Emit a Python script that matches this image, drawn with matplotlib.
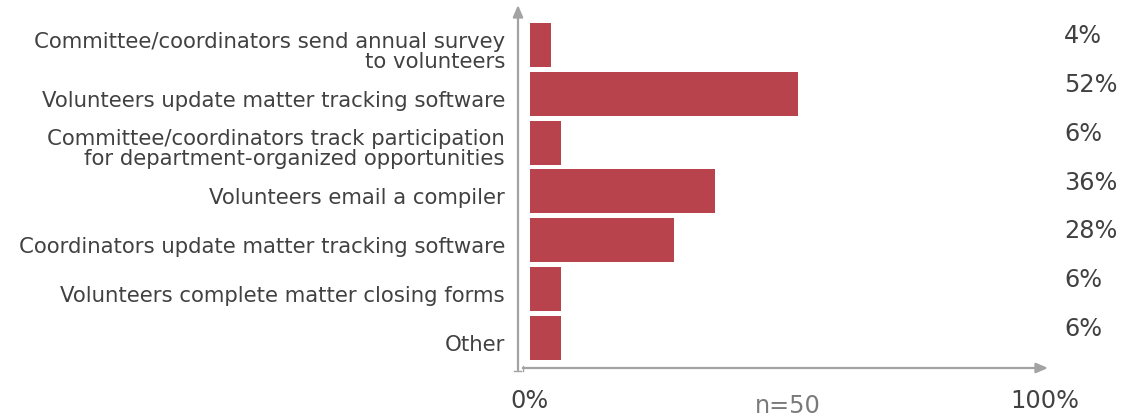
import matplotlib
matplotlib.use("Agg")
import matplotlib.pyplot as plt
from matplotlib.lines import Line2D

categories = [
    "Committee/coordinators send annual survey\nto volunteers",
    "Volunteers update matter tracking software",
    "Committee/coordinators track participation\nfor department-organized opportunities",
    "Volunteers email a compiler",
    "Coordinators update matter tracking software",
    "Volunteers complete matter closing forms",
    "Other",
]
values = [4, 52, 6, 36, 28, 6, 6]
value_labels = ["4%", "52%", "6%", "36%", "28%", "6%", "6%"]
x_tick_labels = ["0%", "100%"]
sample_note = "n=50"

BAR = "#B9434C"
TEXT = "#414141"
AXIS = "#A3A3A3"
FONT = ["DejaVu Sans"]

W, H = 1143, 419
fig = plt.figure(figsize=(W / 100, H / 100), dpi=100)
ax = fig.add_axes([518 / W, 1 - 368 / H, (1048 - 518) / W, (368 - 5) / H])

px = 5.15  # pixels per percentage point
ax.set_xlim(-12 / px, (1048 - 530) / px)
ax.set_ylim(6.62, -0.82)
for s in ax.spines.values():
    s.set_visible(False)
ax.set_xticks([])
ax.set_yticks([])

ys = list(range(len(values)))
ax.barh(ys, values, height=0.9, left=0, color=BAR)

# axis lines with arrow heads
arrow = dict(arrowstyle="-|>,head_length=0.7,head_width=0.3", color=AXIS, lw=1.6,
             shrinkA=0, shrinkB=0)
ax.annotate("", xy=(0, 1), xytext=(0, -0.006), xycoords="axes fraction",
            arrowprops=arrow, annotation_clip=False)
ax.annotate("", xy=(1, 0), xytext=(0.009, 0), xycoords="axes fraction",
            arrowprops=arrow, annotation_clip=False)

# small end ticks where the two axes meet
fig.add_artist(Line2D([514 / W, 521 / W], [1 - 370.5 / H] * 2, color=AXIS, lw=1.0))
fig.add_artist(Line2D([523 / W] * 2, [1 - 365.5 / H, 1 - 371 / H], color=AXIS, lw=1.0))

# category labels
for y, lab in zip(ys, categories):
    ax.text(-25 / px, y + 0.14, lab, ha="right", va="center", fontsize=15.3,
            color=TEXT, family=FONT, linespacing=1.0, clip_on=False)

# value labels on the right
for y, lab in zip(ys, value_labels):
    ax.text((1064 - 530) / px, y - 0.18, lab, ha="left", va="center",
            fontsize=17.3, color=TEXT, family=FONT, clip_on=False)

# bottom labels
kw = dict(transform=ax.get_xaxis_transform(), ha="center", va="center",
          fontsize=17.3, family=FONT)
ax.text(0, -0.09, x_tick_labels[0], color=TEXT, **kw)
ax.text(100, -0.09, x_tick_labels[1], color=TEXT, **kw)
ax.text(50, -0.105, sample_note, color="#7A7A7A", **kw)

fig.savefig("out.png", dpi=100)
